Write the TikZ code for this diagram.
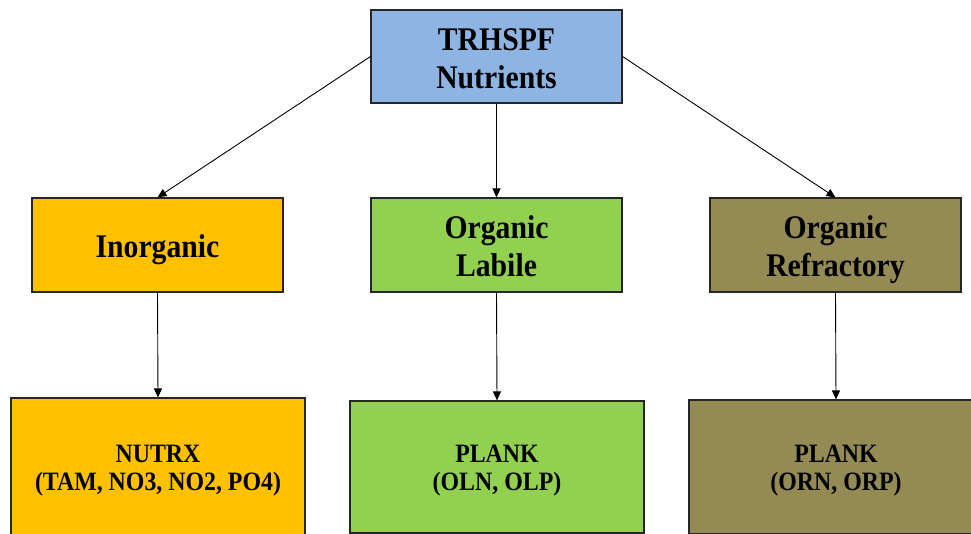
\documentclass[tikz,border=0pt]{standalone}
\usepackage{fontspec}
\setmainfont{Liberation Serif}[FakeStretch=0.9]
\usetikzlibrary{arrows.meta}
\definecolor{topblue}{HTML}{8DB4E2}
\definecolor{inorg}{HTML}{FFC000}
\definecolor{labile}{HTML}{92D050}
\definecolor{refr}{HTML}{948A54}
\newcommand{\bigtop}{\rule{0pt}{36.6pt}}
\newcommand{\bigbot}{\rule[-11.4pt]{0pt}{11.4pt}}
\newcommand{\smtop}{\rule{0pt}{26.4pt}}
\newcommand{\smbot}{\rule[-8.4pt]{0pt}{8.4pt}}
\tikzset{
  boxbase/.style={draw=black!85, line width=1.1pt, align=center, inner sep=0pt},
  bigtext/.style={font=\bfseries\fontsize{33}{38}\selectfont},
  smalltext/.style={font=\bfseries\fontsize{26.5}{28}\selectfont},
  conn/.style={line width=0.9pt, -{Triangle[length=9pt,width=8pt]}}
}
\begin{document}
\begin{tikzpicture}[x=1pt,y=-1pt]
\useasboundingbox (0,0) rectangle (971,533);
\clip (0,0) rectangle (971,533);
\node[boxbase, bigtext, fill=topblue, minimum width=251pt, minimum height=93pt] (top) at (496.5,56.5) {\bigtop TRHSPF\\Nutrients\bigbot};
\node[boxbase, bigtext, fill=inorg, minimum width=251pt, minimum height=94pt] (ino) at (157.5,245) {\bigtop Inorganic\bigbot};
\node[boxbase, bigtext, fill=labile, minimum width=251pt, minimum height=94pt] (lab) at (496.5,245) {\bigtop Organic\\Labile\bigbot};
\node[boxbase, bigtext, fill=refr, minimum width=251pt, minimum height=94pt] (ref) at (835.5,245) {\bigtop Organic\\Refractory\bigbot};
\node[boxbase, smalltext, fill=inorg, minimum width=294pt, minimum height=138pt] (nut) at (158,467) {\smtop NUTRX\\(TAM, NO3, NO2, PO4)\smbot};
\node[boxbase, smalltext, fill=labile, minimum width=294pt, minimum height=132pt] (pl1) at (497,467) {\smtop PLANK\\(OLN, OLP)\smbot};
\node[boxbase, smalltext, fill=refr, minimum width=294pt, minimum height=134pt] (pl2) at (836,467) {\smtop PLANK\\(ORN, ORP)\smbot};
\draw[conn] (top.west) -- (ino.north);
\draw[conn] (top.south) -- (lab.north);
\draw[conn] (top.east) -- (ref.north);
\draw[conn] (ino.south) -- (nut.north);
\draw[conn] (lab.south) -- (pl1.north);
\draw[conn] (ref.south) -- (pl2.north);
\end{tikzpicture}
\end{document}
